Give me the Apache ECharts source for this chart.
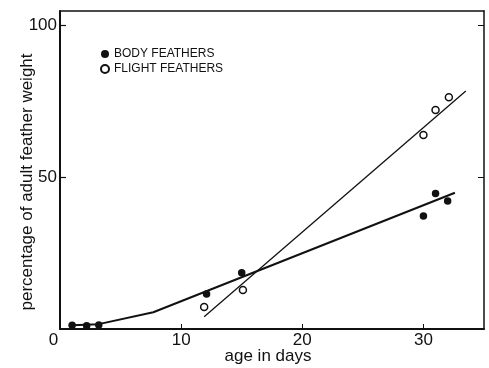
<!DOCTYPE html>
<html>
<head>
<meta charset="utf-8">
<script src="https://cdn.jsdelivr.net/npm/echarts@6/dist/echarts.min.js"></script>
<style>
  html, body { margin: 0; padding: 0; background: #fff; }
  #chart { width: 489px; height: 368px; }
</style>
</head>
<body>
<div id="chart"></div>
<script>
// Age (days) and share of adult feather weight (%)
const bodyAge = [1.0, 2.2, 3.2, 12.1, 15.0, 30.0, 31.0, 32.0];
const bodyPct = [1.2, 1.1, 1.3, 11.5, 18.5, 37.2, 44.6, 42.1];
const flightAge = [11.9, 15.1, 30.0, 31.0, 32.1];
const flightPct = [7.2, 12.8, 63.8, 72.0, 76.2];

// Fitted growth curves
const bodyFitAge = [1.0, 3.2, 7.7, 32.6];
const bodyFitPct = [1.2, 1.6, 5.5, 44.8];
const flightFitAge = [11.9, 33.5];
const flightFitPct = [4.0, 78.3];

const xTicks = [0, 10, 20, 30];
const yTicks = [0, 50, 100];

const seriesNames = ['BODY FEATHERS', 'FLIGHT FEATHERS'];
const xTitle = 'age in days';
const yTitle = 'percentage of adult feather weight';

const zip = (a, b) => a.map((v, i) => [v, b[i]]);
const ink = '#111';
const font = '"Liberation Sans", Arial, Helvetica, sans-serif';

const chart = echarts.init(document.getElementById('chart'), null, { renderer: 'canvas' });

chart.setOption({
  backgroundColor: '#fff',
  animation: false,
  grid: { left: 60, right: 5, top: 11, bottom: 39, outerBoundsMode: 'none', containLabel: false },
  legend: {
    data: seriesNames.map(n => ({ name: n, icon: 'circle' })),
    orient: 'vertical',
    left: 95,
    top: 43,
    itemWidth: 8,
    itemHeight: 8,
    itemGap: 3,
    textStyle: { fontFamily: font, fontSize: 12, color: ink, lineHeight: 12 }
  },
  xAxis: [
    {
      type: 'value', min: 0, max: 35, interval: 10,
      name: xTitle, nameLocation: 'middle', nameGap: 19, nameMoveOverlap: false,
      nameTextStyle: { fontFamily: font, fontSize: 17, color: ink, padding: [0, 8, 0, 0] },
      axisLine: { show: true, lineStyle: { color: ink, width: 2 } },
      axisTick: { show: true, inside: true, length: 5, lineStyle: { color: ink, width: 1 },
                  customValues: xTicks.filter(v => v > 0) },
      axisLabel: {
        margin: 3, fontFamily: font, fontSize: 17, color: ink,
        customValues: xTicks,
        formatter: v => (v === 0 ? '{z|0}' : String(v)),
        rich: { z: { fontFamily: font, fontSize: 17, color: ink, padding: [0, 13, 0, 0] } }
      },
      splitLine: { show: false }
    },
    {
      type: 'value', min: 0, max: 35, position: 'top',
      axisLine: { show: true, onZero: false, lineStyle: { color: ink, width: 1.5 } },
      axisTick: { show: false }, axisLabel: { show: false }, splitLine: { show: false }
    }
  ],
  yAxis: [
    {
      type: 'value', min: 0, max: 104.6, interval: 50,
      name: yTitle, nameLocation: 'middle', nameGap: 24, nameRotate: 90, nameMoveOverlap: false,
      nameTextStyle: { fontFamily: font, fontSize: 17, color: ink, padding: [0, 24, 0, 0] },
      axisLine: { show: true, onZero: false, lineStyle: { color: ink, width: 2 } },
      axisTick: { show: true, inside: true, length: 6, lineStyle: { color: ink, width: 1.2 },
                  customValues: yTicks.filter(v => v > 0) },
      axisLabel: {
        margin: 3, fontFamily: font, fontSize: 17, color: ink,
        customValues: yTicks.filter(v => v > 0)
      },
      splitLine: { show: false }
    },
    {
      type: 'value', min: 0, max: 104.6, position: 'right',
      axisLine: { show: true, onZero: false, lineStyle: { color: ink, width: 1.5 } },
      axisTick: { show: true, inside: true, length: 6, lineStyle: { color: ink, width: 1 },
                  customValues: yTicks.filter(v => v > 0) },
      axisLabel: { show: false }, splitLine: { show: false }
    }
  ],
  series: [
    {
      name: 'body fit', type: 'line', data: zip(bodyFitAge, bodyFitPct),
      showSymbol: false, symbol: 'none', silent: true,
      lineStyle: { color: ink, width: 2 }, z: 2
    },
    {
      name: 'flight fit', type: 'line', data: zip(flightFitAge, flightFitPct),
      showSymbol: false, symbol: 'none', silent: true,
      lineStyle: { color: ink, width: 1.3 }, z: 2
    },
    {
      name: seriesNames[0], type: 'scatter', data: zip(bodyAge, bodyPct),
      symbol: 'circle', symbolSize: 7.5,
      itemStyle: { color: ink, borderColor: ink, borderWidth: 0, opacity: 1 }, z: 3
    },
    {
      name: seriesNames[1], type: 'scatter', data: zip(flightAge, flightPct),
      symbol: 'circle', symbolSize: 7,
      itemStyle: { color: '#fff', borderColor: ink, borderWidth: 1.5, opacity: 1 }, z: 3
    }
  ]
});
</script>
</body>
</html>
